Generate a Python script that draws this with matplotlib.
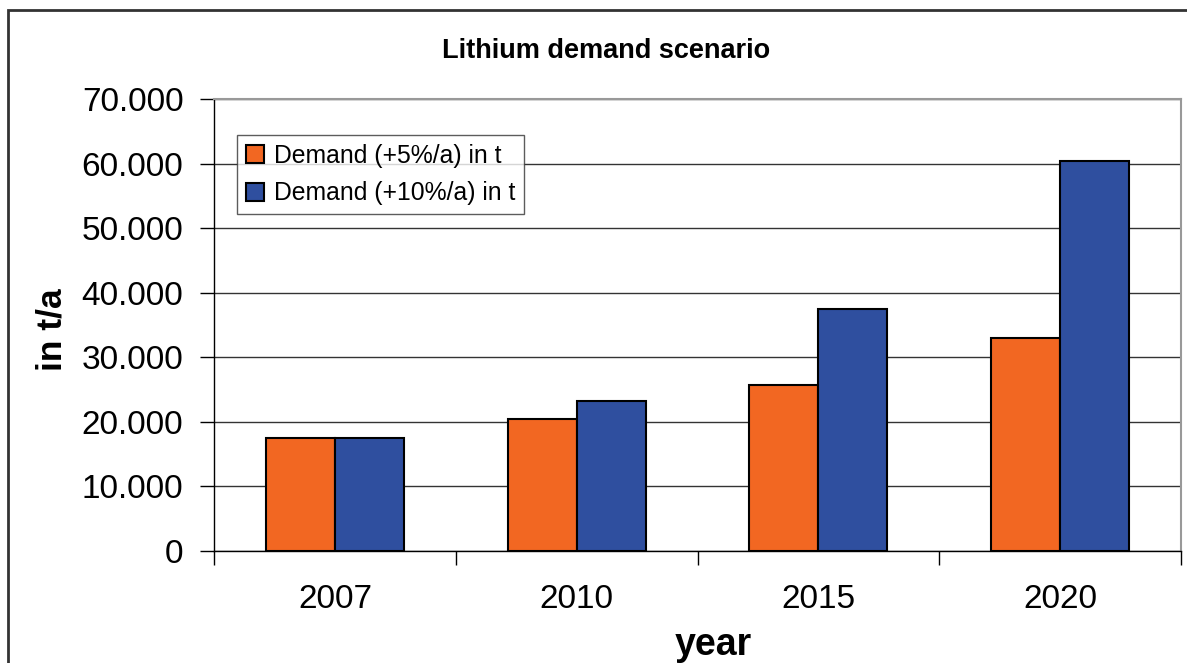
import numpy as np
import matplotlib.pyplot as plt
from matplotlib.ticker import FuncFormatter, FixedLocator
from matplotlib.patches import Rectangle

plt.rcParams['font.family'] = ['Liberation Sans', 'DejaVu Sans']

years = ['2007', '2010', '2015', '2020']
demand_5 = [17500, 20400, 25700, 33000]    # Demand (+5%/a) in t
demand_10 = [17500, 23300, 37500, 60400]   # Demand (+10%/a) in t

orange = '#F26722'
blue = '#2F4F9F'

fig = plt.figure(figsize=(11.87, 6.63), dpi=100)
ax = fig.add_axes([0.1803, 0.1689, 0.8147, 0.6817])

x = np.arange(len(years))
w = 0.2857
ax.bar(x - w / 2, demand_5, w, color=orange, edgecolor='black', linewidth=1.5,
       label='Demand (+5%/a) in t', zorder=3)
ax.bar(x + w / 2, demand_10, w, color=blue, edgecolor='black', linewidth=1.5,
       label='Demand (+10%/a) in t', zorder=3)

ax.set_xlim(-0.5, len(years) - 0.5)
ax.set_ylim(0, 70000)
ax.set_yticks(np.arange(0, 70001, 10000))
ax.yaxis.set_major_formatter(FuncFormatter(lambda v, p: f'{int(v):,}'.replace(',', '.')))
ax.grid(axis='y', color='#333333', linewidth=1, zorder=0)

# category labels centred, tick marks between categories
ax.set_xticks(x)
ax.set_xticklabels(years)
ax.xaxis.set_minor_locator(FixedLocator(np.arange(-0.5, len(years), 1)))
ax.tick_params(axis='x', which='major', length=0, pad=24, labelsize=24)
ax.tick_params(axis='x', which='minor', length=10, width=1, color='black')
ax.tick_params(axis='y', length=10, width=1, pad=12, labelsize=24)

for s in ['top', 'right']:
    ax.spines[s].set_color('#999999')
    ax.spines[s].set_linewidth(1.5)
for s in ['left', 'bottom']:
    ax.spines[s].set_color('black')
    ax.spines[s].set_linewidth(1)

ax.set_ylabel('in t/a', fontsize=25.5, fontweight='bold')
ax.yaxis.set_label_coords(-0.150, 0.49)
ax.set_xlabel('year', fontsize=27, fontweight='bold')
ax.xaxis.set_label_coords(0.516, -0.168)
fig.text(0.511, 0.923, 'Lithium demand scenario', fontsize=19.5, fontweight='bold',
         ha='center', va='center')

leg = ax.legend(loc='upper left', bbox_to_anchor=(0.024, 0.92), fontsize=17.8,
                frameon=True, fancybox=False, edgecolor='#333333', borderpad=0.35,
                handlelength=0.75, handleheight=0.75, handletextpad=0.4,
                labelspacing=0.55, borderaxespad=0)
leg.get_frame().set_linewidth(1)

# outer chart frame (cut off at right and bottom)
fig.patches.append(Rectangle((8 / 1187, -0.1), 1.1, 1 - 10 / 663 + 0.1,
                             transform=fig.transFigure, fill=False,
                             edgecolor='#333333', linewidth=2))

fig.savefig('out.png', dpi=100)
